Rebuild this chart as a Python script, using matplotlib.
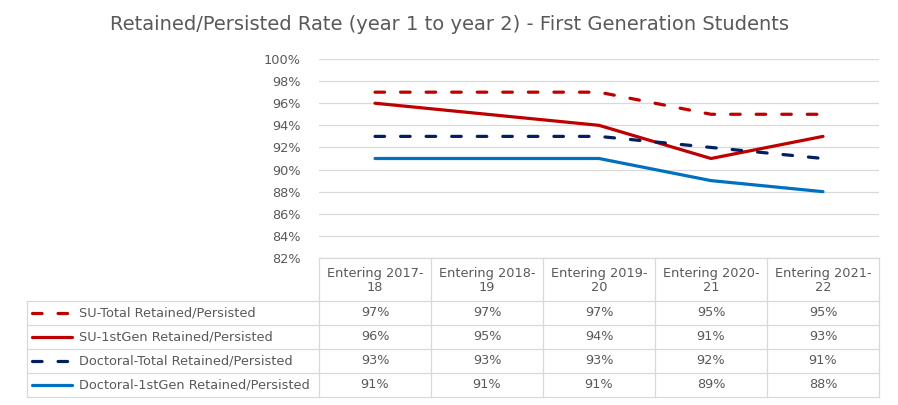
import numpy as np
import matplotlib.pyplot as plt
from matplotlib.lines import Line2D
from matplotlib.ticker import PercentFormatter

plt.rcParams['font.family'] = ['DejaVu Sans']

title = "Retained/Persisted Rate (year 1 to year 2) - First Generation Students"
categories = ["Entering 2017-\n18", "Entering 2018-\n19", "Entering 2019-\n20",
              "Entering 2020-\n21", "Entering 2021-\n22"]
series_names = ["SU-Total Retained/Persisted", "SU-1stGen Retained/Persisted",
                "Doctoral-Total Retained/Persisted", "Doctoral-1stGen Retained/Persisted"]
su_total = [97, 97, 97, 95, 95]
su_1stgen = [96, 95, 94, 91, 93]
doc_total = [93, 93, 93, 92, 91]
doc_1stgen = [91, 91, 91, 89, 88]
series = [su_total, su_1stgen, doc_total, doc_1stgen]

colors = ["#C00000", "#C00000", "#002060", "#0070C0"]
dashed = [True, False, True, False]
txt = "#595959"
grid_c = "#D9D9D9"

W, H = 898, 405
fig = plt.figure(figsize=(W / 100, H / 100), dpi=100)

def fx(px):
    return px / W

def fy(py):
    return 1 - py / H

# plot area
left, right, top, bottom = 319, 879, 59, 258
ax = fig.add_axes([fx(left), fy(bottom), fx(right) - fx(left), fy(top) - fy(bottom)])
x = np.arange(len(categories))
for vals, c, d in zip(series, colors, dashed):
    ln, = ax.plot(x, np.array(vals) / 100, color=c, lw=2.3, solid_capstyle='round')
    if d:
        ln.set_dashes((3, 5))
        ln.set_dash_capstyle('round')
ax.set_xlim(-0.5, len(categories) - 0.5)
ax.set_ylim(0.82, 1.0)
ax.set_yticks(np.arange(0.82, 1.001, 0.02))
ax.yaxis.set_major_formatter(PercentFormatter(1.0, decimals=0))
ax.grid(axis='y', color=grid_c, lw=0.9)
ax.set_axisbelow(True)
ax.set_xticks([])
ax.tick_params(axis='y', length=0, labelsize=9.3, labelcolor=txt, pad=13)
for s in ax.spines.values():
    s.set_visible(False)

fig.text(0.5, fy(24), title, ha='center', va='center', fontsize=14, color=txt)

# data table
col_edges = np.linspace(left, right, len(categories) + 1)
row_edges = [258, 301, 325, 349, 373, 397]
label_left = 27
lw_t = 0.9
fs = 9.3
for i, ry in enumerate(row_edges):
    x0 = left if i == 0 else label_left
    fig.add_artist(Line2D([fx(x0), fx(right)], [fy(ry), fy(ry)], color=grid_c, lw=lw_t))
for cx in col_edges:
    fig.add_artist(Line2D([fx(cx), fx(cx)], [fy(row_edges[0]), fy(row_edges[-1])], color=grid_c, lw=lw_t))
fig.add_artist(Line2D([fx(label_left), fx(label_left)], [fy(row_edges[1]), fy(row_edges[-1])],
                      color=grid_c, lw=lw_t))

for j, cat in enumerate(categories):
    cx = (col_edges[j] + col_edges[j + 1]) / 2
    fig.text(fx(cx), fy((row_edges[0] + row_edges[1]) / 2 + 1), cat, ha='center', va='center',
             fontsize=fs, color=txt, linespacing=1.15)

for i, (name, vals, c, d) in enumerate(zip(series_names, series, colors, dashed)):
    cy = (row_edges[i + 1] + row_edges[i + 2]) / 2
    ln = Line2D([fx(32), fx(72)], [fy(cy), fy(cy)], color=c, lw=2.3, solid_capstyle='round')
    if d:
        ln.set_dashes((3, 5))
        ln.set_dash_capstyle('round')
    fig.add_artist(ln)
    fig.text(fx(79), fy(cy), name, ha='left', va='center', fontsize=fs, color=txt)
    for j, v in enumerate(vals):
        cx = (col_edges[j] + col_edges[j + 1]) / 2
        fig.text(fx(cx), fy(cy), f"{v}%", ha='center', va='center', fontsize=fs, color=txt)

fig.savefig("out.png", dpi=100)
